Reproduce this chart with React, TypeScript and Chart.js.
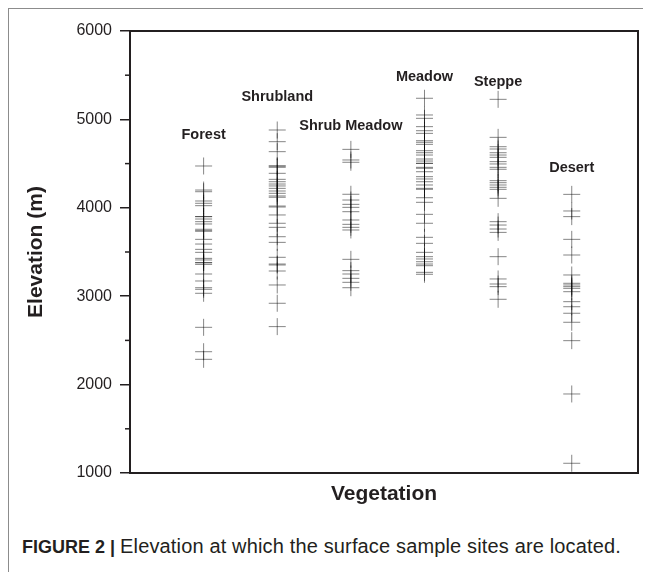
import React, { useEffect, useRef } from 'react';
import { Chart, registerables } from 'chart.js';

Chart.register(...registerables);

const categories = ['Forest', 'Shrubland', 'Shrub Meadow', 'Meadow', 'Steppe', 'Desert'];
const labelElevations = [4824, 5257, 4929, 5480, 5423, 4450];

const forest = [4473, 4201, 4182, 4077, 4051, 4024, 3900, 3900, 3873, 3843, 3817, 3757, 3738, 3738, 3643, 3590, 3530, 3496, 3428, 3410, 3379, 3379, 3360, 3251, 3172, 3096, 3078, 3033, 2648, 2372, 2286];
const shrubland = [4880, 4748, 4635, 4473, 4473, 4458, 4390, 4322, 4295, 4269, 4247, 4220, 4190, 4164, 4134, 4119, 4020, 4009, 3919, 3825, 3779, 3673, 3609, 3440, 3364, 3353, 3285, 3127, 2920, 2656];
const shrubMeadow = [4661, 4541, 4515, 4153, 4088, 4039, 4005, 3956, 3862, 3813, 3779, 3749, 3417, 3289, 3251, 3202, 3157, 3096];
const meadow = [5239, 5050, 5012, 4918, 4872, 4842, 4759, 4741, 4718, 4646, 4623, 4597, 4552, 4529, 4503, 4503, 4458, 4447, 4408, 4352, 4326, 4295, 4258, 4220, 4209, 4114, 4062, 3926, 3825, 3666, 3598, 3496, 3447, 3421, 3390, 3364, 3345, 3270, 3248];
const steppe = [5227, 4797, 4691, 4665, 4623, 4597, 4571, 4522, 4496, 4458, 4436, 4307, 4284, 4258, 4232, 4209, 4107, 3843, 3805, 3760, 3722, 3447, 3195, 3138, 3108, 2965];
const desert = [4152, 3964, 3900, 3643, 3466, 3240, 3146, 3127, 3108, 3089, 3051, 2938, 2881, 2807, 2705, 2497, 1894, 1110];

const seriesValues = [forest, shrubland, shrubMeadow, meadow, steppe, desert];
const yMin = 1000;
const yMax = 6000;
const xMax = 6.9;
const minorTicks = [1500, 2500, 3500, 4500, 5500];

const FONT = '"Liberation Sans", Arial, Helvetica, sans-serif';
const INK = '#231f20';

const framePlugin = {
  id: 'frameAndLabels',
  afterDraw(chart: any) {
    const { ctx, chartArea: a, scales } = chart;
    const xs = scales.x;
    const ys = scales.y;
    ctx.save();
    ctx.strokeStyle = INK;
    ctx.lineWidth = 1.5;
    minorTicks.forEach((v) => {
      const py = ys.getPixelForValue(v);
      ctx.beginPath();
      ctx.moveTo(a.left - 5, py);
      ctx.lineTo(a.left, py);
      ctx.stroke();
    });
    ctx.lineWidth = 2;
    ctx.strokeRect(a.left, a.top, a.right - a.left, a.bottom - a.top);
    ctx.font = 'bold 14.5px ' + FONT;
    ctx.fillStyle = INK;
    ctx.textAlign = 'center';
    ctx.textBaseline = 'middle';
    categories.forEach((c, i) => {
      ctx.fillText(c, xs.getPixelForValue(i + 1), ys.getPixelForValue(labelElevations[i]));
    });
    ctx.restore();
  },
};

export default function App() {
  const ref = useRef<HTMLCanvasElement | null>(null);

  useEffect(() => {
    if (!ref.current) return;
    const data: { x: number; y: number }[] = [];
    seriesValues.forEach((arr, i) => arr.forEach((v) => data.push({ x: i + 1, y: v })));
    const chart = new Chart(ref.current, {
      type: 'scatter',
      data: {
        datasets: [
          {
            data,
            pointStyle: 'cross',
            pointRadius: 8.5,
            pointBorderWidth: 1,
            borderColor: 'rgba(0,0,0,0.48)',
            backgroundColor: 'rgba(0,0,0,0.48)',
          },
        ],
      },
      options: {
        animation: false,
        responsive: false,
        devicePixelRatio: 1,
        events: [],
        layout: { padding: { top: 22, right: 13, left: 0, bottom: 0 } },
        plugins: { legend: { display: false }, tooltip: { enabled: false } },
        scales: {
          x: {
            type: 'linear',
            min: 0,
            max: xMax,
            border: { display: false },
            grid: { display: false },
            ticks: { display: false },
            title: {
              display: true,
              text: 'Vegetation',
              color: INK,
              font: { family: FONT, size: 21, weight: 'bold' },
              padding: { top: 0, bottom: 22 },
            },
            afterFit: (s: any) => {
              s.height = 56;
            },
          },
          y: {
            min: yMin,
            max: yMax,
            border: { display: false },
            grid: {
              drawOnChartArea: false,
              drawTicks: true,
              tickLength: 10,
              lineWidth: 1.5,
              color: (c: any) => (c.tick && c.tick.value % 1000 === 0 ? INK : 'rgba(0,0,0,0)'),
            },
            ticks: {
              stepSize: 500,
              autoSkip: false,
              padding: 8,
              color: INK,
              font: { family: FONT, size: 16 },
              callback: (v: any) => (Number(v) % 1000 === 0 ? String(v) : ''),
            },
            title: {
              display: true,
              text: 'Elevation (m)',
              color: INK,
              font: { family: FONT, size: 21, weight: 'bold' },
              padding: { top: 15, bottom: 0 },
            },
            afterFit: (s: any) => {
              s.width = 121;
            },
          },
        },
      },
      plugins: [framePlugin],
    });
    return () => chart.destroy();
  }, []);

  return (
    <div
      style={{
        position: 'relative',
        width: 643,
        height: 564,
        boxSizing: 'border-box',
        borderTop: '1px solid #8c8c8c',
        borderLeft: '1px solid #8c8c8c',
        fontFamily: FONT,
        color: INK,
      }}
    >
      <canvas ref={ref} width={642} height={520} style={{ position: 'absolute', left: 0, top: 0 }} />
      <div
        style={{
          position: 'absolute',
          left: 13,
          top: 526,
          fontSize: 18,
          lineHeight: '22px',
          whiteSpace: 'nowrap',
        }}
      >
        <b>FIGURE 2 |</b> <span style={{ fontSize: 20, letterSpacing: '0.15px' }}>Elevation at which the surface sample sites are located.</span>
      </div>
    </div>
  );
}
